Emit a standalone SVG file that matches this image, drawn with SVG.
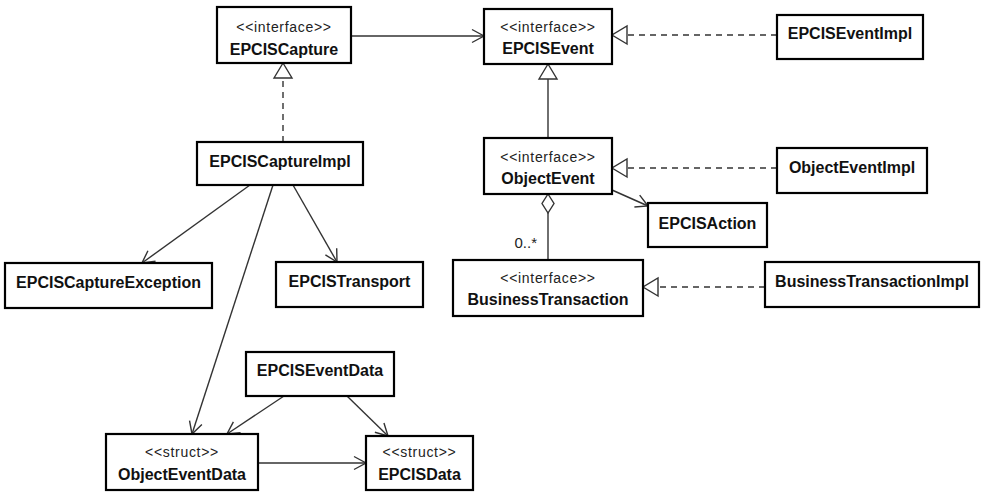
<svg xmlns="http://www.w3.org/2000/svg" width="982" height="492" viewBox="0 0 982 492">
  <style>
    .box { fill: #fff; stroke: #000; stroke-width: 2.2; }
    .name { font-family: "Liberation Sans", Arial, sans-serif; font-size: 16px; font-weight: bold; fill: #111; text-anchor: middle; }
    .stereo { font-family: "Liberation Sans", Arial, sans-serif; font-size: 14px; letter-spacing: 0.7px; fill: #222; text-anchor: middle; }
    .mult { font-family: "Liberation Sans", Arial, sans-serif; font-size: 15px; fill: #222; text-anchor: end; }
    .assoc { fill: none; stroke: #333; stroke-width: 1.4; marker-end: url(#open); }
    .gen { fill: none; stroke: #333; stroke-width: 1.4; marker-end: url(#hollow); }
    .real { fill: none; stroke: #333; stroke-width: 1.4; stroke-dasharray: 6 5; marker-end: url(#hollow); }
    .aggr { fill: none; stroke: #333; stroke-width: 1.4; marker-start: url(#diamond); }
  </style>
  <defs>
    <marker id="open" markerUnits="userSpaceOnUse" viewBox="-14 -8 16 16" refX="0" refY="0" markerWidth="16" markerHeight="16" orient="auto" overflow="visible">
      <path d="M-12,-6.5 L0,0 L-12,6.5" fill="none" stroke="#333" stroke-width="1.4"/>
    </marker>
    <marker id="hollow" markerUnits="userSpaceOnUse" viewBox="-16 -10 18 20" refX="0" refY="0" markerWidth="18" markerHeight="20" orient="auto" overflow="visible">
      <path d="M-15,-9 L0,0 L-15,9 Z" fill="#fff" stroke="#333" stroke-width="1.4"/>
    </marker>
    <marker id="diamond" markerUnits="userSpaceOnUse" viewBox="-1 -7 22 14" refX="0" refY="0" markerWidth="22" markerHeight="14" orient="auto" overflow="visible">
      <path d="M0,0 L9.5,-6 L19,0 L9.5,6 Z" fill="#fff" stroke="#333" stroke-width="1.4"/>
    </marker>
  </defs>

  <!-- connectors -->
  <g id="connectors">
    <line class="assoc" x1="351" y1="36" x2="484" y2="36"/>
    <line class="real" x1="777" y1="35" x2="612" y2="35"/>
    <line class="gen" x1="548" y1="138" x2="548" y2="64"/>
    <line class="real" x1="777" y1="168" x2="612" y2="168"/>
    <line class="assoc" x1="612" y1="190" x2="648" y2="206"/>
    <line class="aggr" x1="548" y1="194" x2="548" y2="260"/>
    <line class="real" x1="765" y1="287" x2="643" y2="287"/>
    <line class="real" x1="283" y1="142" x2="283" y2="63"/>
    <line class="assoc" x1="250" y1="185" x2="142" y2="263"/>
    <line class="assoc" x1="293" y1="185" x2="337" y2="262"/>
    <line class="assoc" x1="273" y1="185" x2="192" y2="434"/>
    <line class="assoc" x1="284" y1="396" x2="227" y2="434"/>
    <line class="assoc" x1="347" y1="396" x2="388" y2="436"/>
    <line class="assoc" x1="258" y1="463" x2="366" y2="463"/>
    <text class="mult" x="537" y="248">0..*</text>
  </g>

  <!-- classes -->
  <g id="EPCISCapture">
    <rect class="box" x="217" y="7" width="134" height="56"/>
    <text class="stereo" x="284" y="32">&lt;&lt;interface&gt;&gt;</text>
    <text class="name" x="284" y="55">EPCISCapture</text>
  </g>
  <g id="EPCISEvent">
    <rect class="box" x="484" y="9" width="128" height="55"/>
    <text class="stereo" x="548" y="32">&lt;&lt;interface&gt;&gt;</text>
    <text class="name" x="548" y="54">EPCISEvent</text>
  </g>
  <g id="EPCISEventImpl">
    <rect class="box" x="777" y="15" width="146" height="44"/>
    <text class="name" x="850" y="39">EPCISEventImpl</text>
  </g>
  <g id="EPCISCaptureImpl">
    <rect class="box" x="197" y="142" width="166" height="43"/>
    <text class="name" x="280" y="167">EPCISCaptureImpl</text>
  </g>
  <g id="ObjectEvent">
    <rect class="box" x="484" y="138" width="128" height="56"/>
    <text class="stereo" x="548" y="162">&lt;&lt;interface&gt;&gt;</text>
    <text class="name" x="548" y="184">ObjectEvent</text>
  </g>
  <g id="ObjectEventImpl">
    <rect class="box" x="777" y="148" width="150" height="45"/>
    <text class="name" x="852" y="173">ObjectEventImpl</text>
  </g>
  <g id="EPCISAction">
    <rect class="box" x="648" y="203" width="119" height="44"/>
    <text class="name" x="707.5" y="229">EPCISAction</text>
  </g>
  <g id="EPCISCaptureException">
    <rect class="box" x="5" y="263" width="207" height="45"/>
    <text class="name" x="108.5" y="288">EPCISCaptureException</text>
  </g>
  <g id="EPCISTransport">
    <rect class="box" x="276" y="262" width="147" height="45"/>
    <text class="name" x="349.5" y="287">EPCISTransport</text>
  </g>
  <g id="BusinessTransaction">
    <rect class="box" x="453" y="260" width="190" height="56"/>
    <text class="stereo" x="548" y="283">&lt;&lt;interface&gt;&gt;</text>
    <text class="name" x="548" y="305">BusinessTransaction</text>
  </g>
  <g id="BusinessTransactionImpl">
    <rect class="box" x="765" y="262" width="214" height="45"/>
    <text class="name" x="872" y="287">BusinessTransactionImpl</text>
  </g>
  <g id="EPCISEventData">
    <rect class="box" x="246" y="352" width="148" height="44"/>
    <text class="name" x="320" y="376">EPCISEventData</text>
  </g>
  <g id="ObjectEventData">
    <rect class="box" x="106" y="434" width="152" height="56"/>
    <text class="stereo" x="182" y="457">&lt;&lt;struct&gt;&gt;</text>
    <text class="name" x="182" y="480">ObjectEventData</text>
  </g>
  <g id="EPCISData">
    <rect class="box" x="366" y="436" width="107" height="54"/>
    <text class="stereo" x="419.5" y="457">&lt;&lt;struct&gt;&gt;</text>
    <text class="name" x="419.5" y="480">EPCISData</text>
  </g>
</svg>
